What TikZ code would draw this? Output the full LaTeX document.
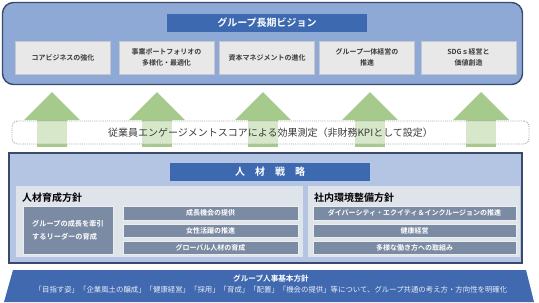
\documentclass[tikz,border=0pt]{standalone}
\usepackage{fontspec}
\setmainfont{Noto Sans CJK JP}[BoldFont={Noto Sans CJK JP Bold}]
\definecolor{navyline}{HTML}{3A4A6C}
\definecolor{visionfill}{HTML}{8FA9D6}
\definecolor{titleblue}{HTML}{3D69B0}
\definecolor{boxgray}{HTML}{E8E8E8}
\definecolor{boxline}{HTML}{C4C8CE}
\definecolor{arrowgreen}{HTML}{A6CA8B}
\definecolor{midfill}{HTML}{B3C5E3}
\definecolor{panelfill}{HTML}{DFE3EA}
\definecolor{slate}{HTML}{7B8BA3}
\definecolor{basefill}{HTML}{4069B0}
\definecolor{txtgray}{HTML}{3C3C3C}
\begin{document}
\begin{tikzpicture}[x=1pt,y=-1pt,
  titlebar/.style={fill=titleblue, text=white, minimum width=200, minimum height=18, inner sep=0pt, font=\fontsize{10}{12}\selectfont\bfseries},
  visionbox/.style={fill=boxgray, draw=boxline, line width=0.6pt, minimum width=95, minimum height=33, inner sep=0pt, align=center, text=txtgray, font=\fontsize{7}{11}\selectfont\bfseries},
  slatebar/.style={fill=slate, draw=white!85!slate, line width=0.5pt, minimum height=13.5, inner sep=0pt, text=white, font=\fontsize{7}{9}\selectfont\bfseries},
  heading/.style={anchor=west, inner sep=0pt, text=black, font=\fontsize{10}{12}\selectfont\bfseries},
  greenarrow/.style={fill=arrowgreen}
]
\useasboundingbox (0,0) rectangle (539,303);

% ---- top vision panel
\node[draw=navyline, line width=1.4pt, fill=visionfill, rounded corners=11pt,
      minimum width=520, minimum height=82, inner sep=0pt] (vision) at (262.5,43.5) {};
\node[titlebar] (vtitle) at (267,23) {グループ長期ビジョン};
\node[visionbox] (b1) at (63,57.5) {コアビジネスの強化};
\node[visionbox] (b2) at (166.5,57.5) {事業ポートフォリオの\\多様化・最適化};
\node[visionbox] (b3) at (267,57.5) {資本マネジメントの進化};
\node[visionbox] (b4) at (367,57.5) {グループ一体経営の\\推進};
\node[visionbox] (b5) at (468.5,57.5) {SDGｓ経営と\\価値創造};

% ---- green arrows
\foreach \c in {52,157,263,370,481}{
  \fill[greenarrow] (\c-28,120) -- (\c,92) -- (\c+28,120) -- cycle;
  \fill[greenarrow] (\c-15,119.5) rectangle (\c+15,147);
}

% ---- engagement band
\node[draw=gray!70, densely dotted, line width=0.9pt, fill=white, fill opacity=0.55,
      text opacity=1, rounded corners=5pt, minimum width=517, minimum height=23,
      inner sep=0pt, text=txtgray, font=\fontsize{10}{12}\selectfont] (kpi) at (270.5,132.5)
      {従業員エンゲージメントスコアによる効果測定（非財務KPIとして設定）};

% ---- strategy panel
\node[draw=navyline, line width=1.2pt, fill=midfill, minimum width=513, minimum height=110,
      inner sep=0pt] (strategy) at (265.5,208) {};
\node[titlebar] (stitle) at (270,172) {人　材　戦　略};
\node[fill=panelfill, minimum width=287, minimum height=71, inner sep=0pt] (lpanel) at (159.5,221.5) {};
\node[fill=panelfill, minimum width=212, minimum height=71, inner sep=0pt] (rpanel) at (414,221.5) {};
\node[heading] (lhead) at (22,198) {人材育成方針};
\node[heading] (rhead) at (314,198) {社内環境整備方針};

\node[fill=slate, draw=white!85!slate, line width=0.5pt, minimum width=90, minimum height=48,
      inner sep=0pt, align=left, text=white, font=\fontsize{7.2}{13}\selectfont\bfseries]
      (leader) at (68,230) {グループの成長を牽引\\するリーダーの育成};
\node[slatebar, minimum width=175] (l1) at (210.5,213) {成長機会の提供};
\node[slatebar, minimum width=175] (l2) at (210.5,230.5) {女性活躍の推進};
\node[slatebar, minimum width=175] (l3) at (210.5,247.5) {グローバル人材の育成};
\node[slatebar, minimum width=203] (r1) at (414.5,213) {ダイバーシティ・エクイティ＆インクルージョンの推進};
\node[slatebar, minimum width=203] (r2) at (414.5,230.5) {健康経営};
\node[slatebar, minimum width=203] (r3) at (414.5,247.5) {多様な働き方への取組み};

% ---- base policy
\fill[basefill] (13,270) -- (526,270) -- (534,302) -- (4,302) -- cycle;
\node[inner sep=0pt, text=white, font=\fontsize{7.6}{9}\selectfont\bfseries] (btitle) at (271,278.5) {グループ人事基本方針};
\node[inner sep=0pt, text=white!88!basefill, font=\fontsize{7.4}{9}\selectfont] (btext) at (271,290)
  {「目指す姿」「企業風土の醸成」「健康経営」「採用」「育成」「配置」「機会の提供」等について、グループ共通の考え方・方向性を明確化};
\end{tikzpicture}
\end{document}
